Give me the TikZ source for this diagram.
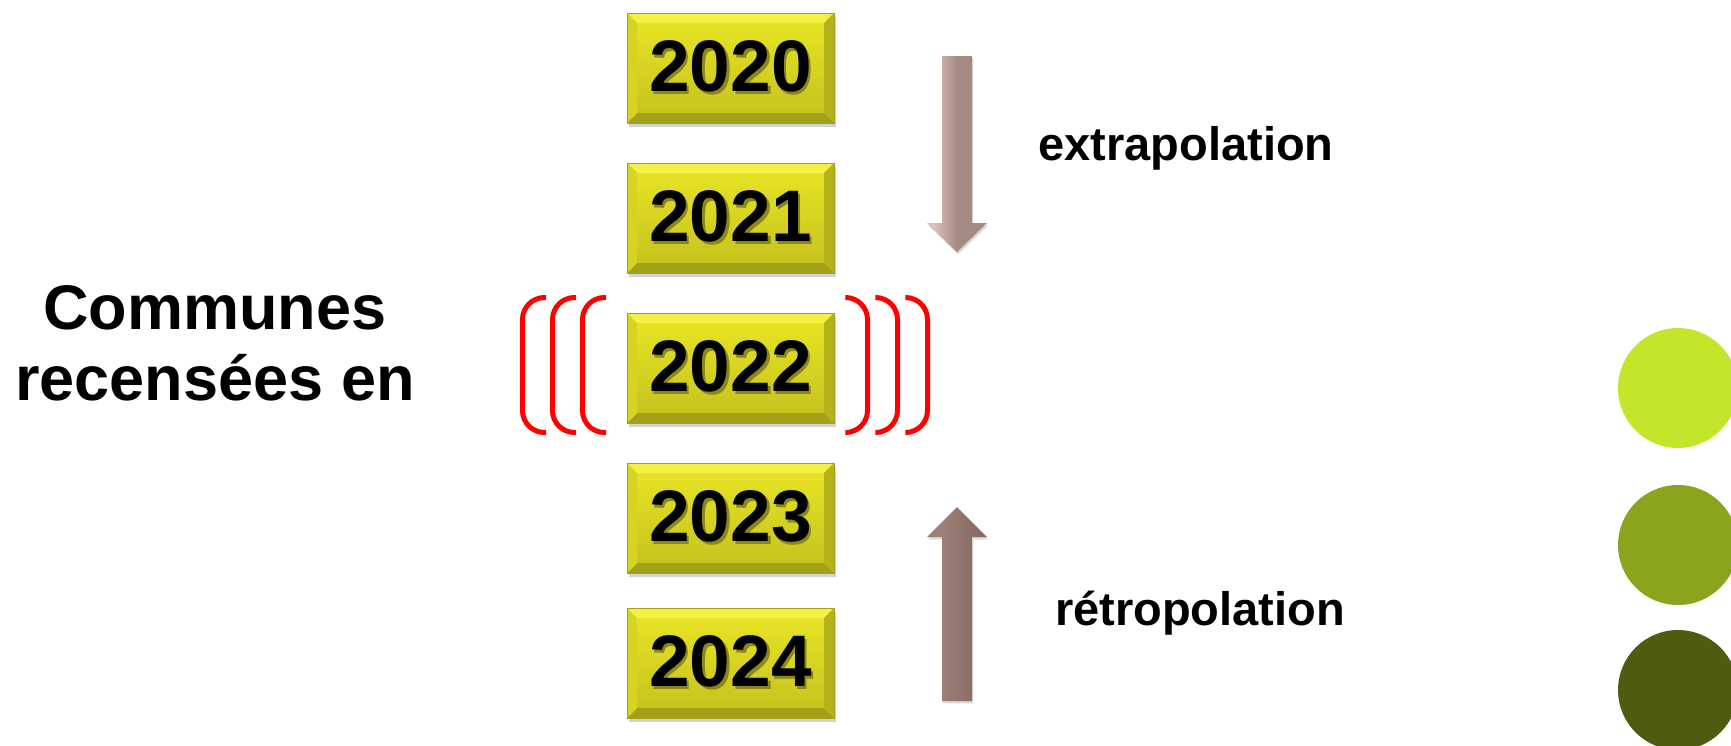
\documentclass[tikz,border=0pt]{standalone}
\usepackage{fontspec}
\setmainfont{Liberation Sans}
\usepackage{tikz}
\usetikzlibrary{shadows}

\definecolor{boxtop}{HTML}{E9E626}
\definecolor{boxbot}{HTML}{C4C01E}
\definecolor{bevlight}{HTML}{F4F144}
\definecolor{bevdark}{HTML}{A3A01A}
\definecolor{bevside}{HTML}{D6D322}
\definecolor{bevright}{HTML}{B5B21C}
\definecolor{digshadow}{HTML}{8A8818}
\definecolor{downA}{HTML}{A58A82}
\definecolor{downB}{HTML}{DCC2B8}
\definecolor{downC}{HTML}{8A736B}
\definecolor{upA}{HTML}{866A61}
\definecolor{upB}{HTML}{9E827A}
\definecolor{upC}{HTML}{6A554E}
\definecolor{limeA}{HTML}{C3E62A}
\definecolor{limeB}{HTML}{8AA41E}
\definecolor{limeC}{HTML}{4F5C10}

\pgfdeclarehorizontalshading{arrowdown}{100bp}{color(0bp)=(downA); color(30bp)=(downB); color(50bp)=(downA); color(75bp)=(downA); color(100bp)=(downC)}
\pgfdeclarehorizontalshading{arrowup}{100bp}{color(0bp)=(upA); color(35bp)=(upB); color(70bp)=(upA); color(100bp)=(upC)}

\newcommand{\shadowyear}[1]{\makebox[0pt][l]{\hspace{1.3pt}\raisebox{-1.3pt}{\textcolor{digshadow}{#1}}}#1}

\tikzset{
  yearbox/.style={draw=bevdark, line width=0.3pt, minimum width=103.5pt, minimum height=55pt, inner sep=0pt,
    top color=boxtop, bottom color=boxbot,
    drop shadow={shadow xshift=0.8pt, shadow yshift=-1.8pt, opacity=0.35},
    font=\fontsize{36.5}{40}\selectfont\bfseries,
    path picture={
      \path (path picture bounding box.north west) coordinate (pa)
            (path picture bounding box.north east) coordinate (pb)
            (path picture bounding box.south east) coordinate (pc)
            (path picture bounding box.south west) coordinate (pd);
      \fill[bevlight] (pa) -- (pb) -- ([shift={(-5pt,-5pt)}]pb) -- ([shift={(5pt,-5pt)}]pa) -- cycle;
      \fill[bevdark] (pd) -- (pc) -- ([shift={(-5pt,5pt)}]pc) -- ([shift={(5pt,5pt)}]pd) -- cycle;
      \fill[bevside] (pa) -- ([shift={(5pt,-5pt)}]pa) -- ([shift={(5pt,5pt)}]pd) -- (pd) -- cycle;
      \fill[bevright] (pb) -- ([shift={(-5pt,-5pt)}]pb) -- ([shift={(-5pt,5pt)}]pc) -- (pc) -- cycle;
    }},
  bracket/.style={red, line width=2.5pt, rounded corners=11pt},
  blockarrow/.style={drop shadow={shadow xshift=0.6pt, shadow yshift=-1.2pt, opacity=0.3}},
  dot/.style={circle, minimum size=60pt, inner sep=0pt},
}

\begin{document}
\begin{tikzpicture}[x=0.5pt, y=-0.5pt]
    \useasboundingbox (0,0) rectangle (1731,745);

    \node[font=\fontsize{31.5}{35.5}\selectfont\bfseries, align=center] (communes) at (215,343) {Communes\\recensées en};

    % years
    \foreach \yr/\y in {2020/68, 2021/218, 2022/368, 2023/518, 2024/663}
        \node[yearbox] (y\yr) at (730.5,\y) {\shadowyear{\yr}};

    % brackets round 2022
    \foreach \dx in {0,30,60} {
        \draw[bracket] (546+\dx,297.5) -- (522.5+\dx,297.5) -- (522.5+\dx,432.5) -- (546+\dx,432.5);
        \draw[bracket] (846+\dx,297.5) -- (867.5+\dx,297.5) -- (867.5+\dx,432.5) -- (846+\dx,432.5);
    }

    % block arrows
    \shade[blockarrow, shading=arrowdown]
        (942,56) -- (972,56) -- (972,223) -- (987,223) -- (957,252) -- (927,223) -- (942,223) -- cycle;
    \shade[blockarrow, shading=arrowup]
        (942,701) -- (972,701) -- (972,537) -- (987,537) -- (957,507) -- (927,537) -- (942,537) -- cycle;

    \node[font=\fontsize{23.5}{28}\selectfont\bfseries, anchor=base] (extra) at (1186,160) {extrapolation};
    \node[font=\fontsize{23.5}{28}\selectfont\bfseries, anchor=base] (retro) at (1200,625) {rétropolation};

    % dots on the right edge
    \node[dot, fill=limeA] (dotA) at (1678,388) {};
    \node[dot, fill=limeB] (dotB) at (1678,545) {};
    \node[dot, fill=limeC] (dotC) at (1678,690) {};
\end{tikzpicture}
\end{document}
